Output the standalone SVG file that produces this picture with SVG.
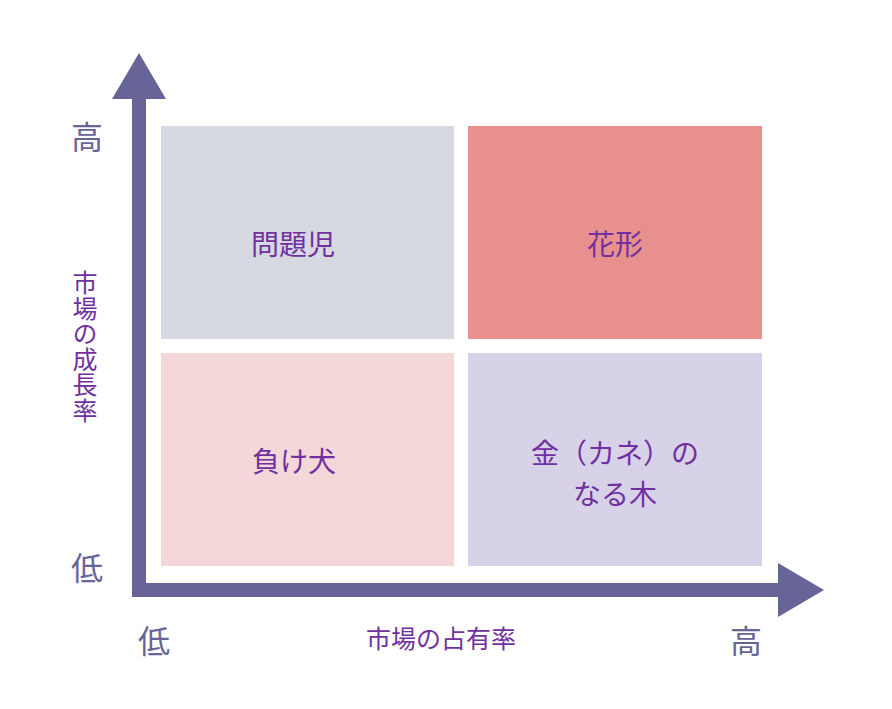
<svg xmlns="http://www.w3.org/2000/svg" width="892" height="709" viewBox="0 0 892 709">
<style>
.lbl{font-family:"Noto Sans CJK JP","Noto Sans CJK SC",sans-serif;fill:#7030a0;font-size:28px;text-anchor:middle}
.ax{font-family:"Noto Sans CJK JP","Noto Sans CJK SC",sans-serif;fill:#676598;font-size:32px;text-anchor:middle}
.axt{font-family:"Noto Sans CJK JP","Noto Sans CJK SC",sans-serif;fill:#7030a0;font-size:25px;text-anchor:middle}
.vt{font-family:"Noto Sans CJK JP","Noto Sans CJK SC",sans-serif;fill:#7030a0;font-size:25px;writing-mode:vertical-rl;letter-spacing:0.5px}
</style>
<rect width="892" height="709" fill="#ffffff"/>
<g id="q-problem">
<rect x="161" y="126" width="293" height="213" fill="#d6d9e1"/>
<text class="lbl" x="293" y="255">問題児</text>
</g>
<g id="q-star">
<rect x="468" y="126" width="294" height="213" fill="#e8908d"/>
<text class="lbl" x="615" y="255">花形</text>
</g>
<g id="q-dog">
<rect x="161" y="353" width="293" height="213" fill="#f4d8d9"/>
<text class="lbl" x="294" y="472">負け犬</text>
</g>
<g id="q-cash">
<rect x="468" y="353" width="294" height="213" fill="#d7d2e8"/>
<text class="lbl"><tspan x="615" y="464">金（カネ）の</tspan><tspan x="615" y="505">なる木</tspan></text>
</g>
<g id="connectors">
<path d="M139,53 L166,99 L146,99 L146,583 L778,583 L778,563 L824,590 L778,617 L778,597 L132,597 L132,99 L112,99 Z" fill="#676598"/>
</g>
<g id="axis-labels">
<text class="ax" x="87" y="149">高</text>
<text class="ax" x="87" y="580">低</text>
<text class="ax" x="154" y="653">低</text>
<text class="ax" x="746" y="653">高</text>
<text class="vt" x="85" y="270">市場の成長率</text>
<text class="axt" x="441" y="648">市場の占有率</text>
</g>
</svg>
